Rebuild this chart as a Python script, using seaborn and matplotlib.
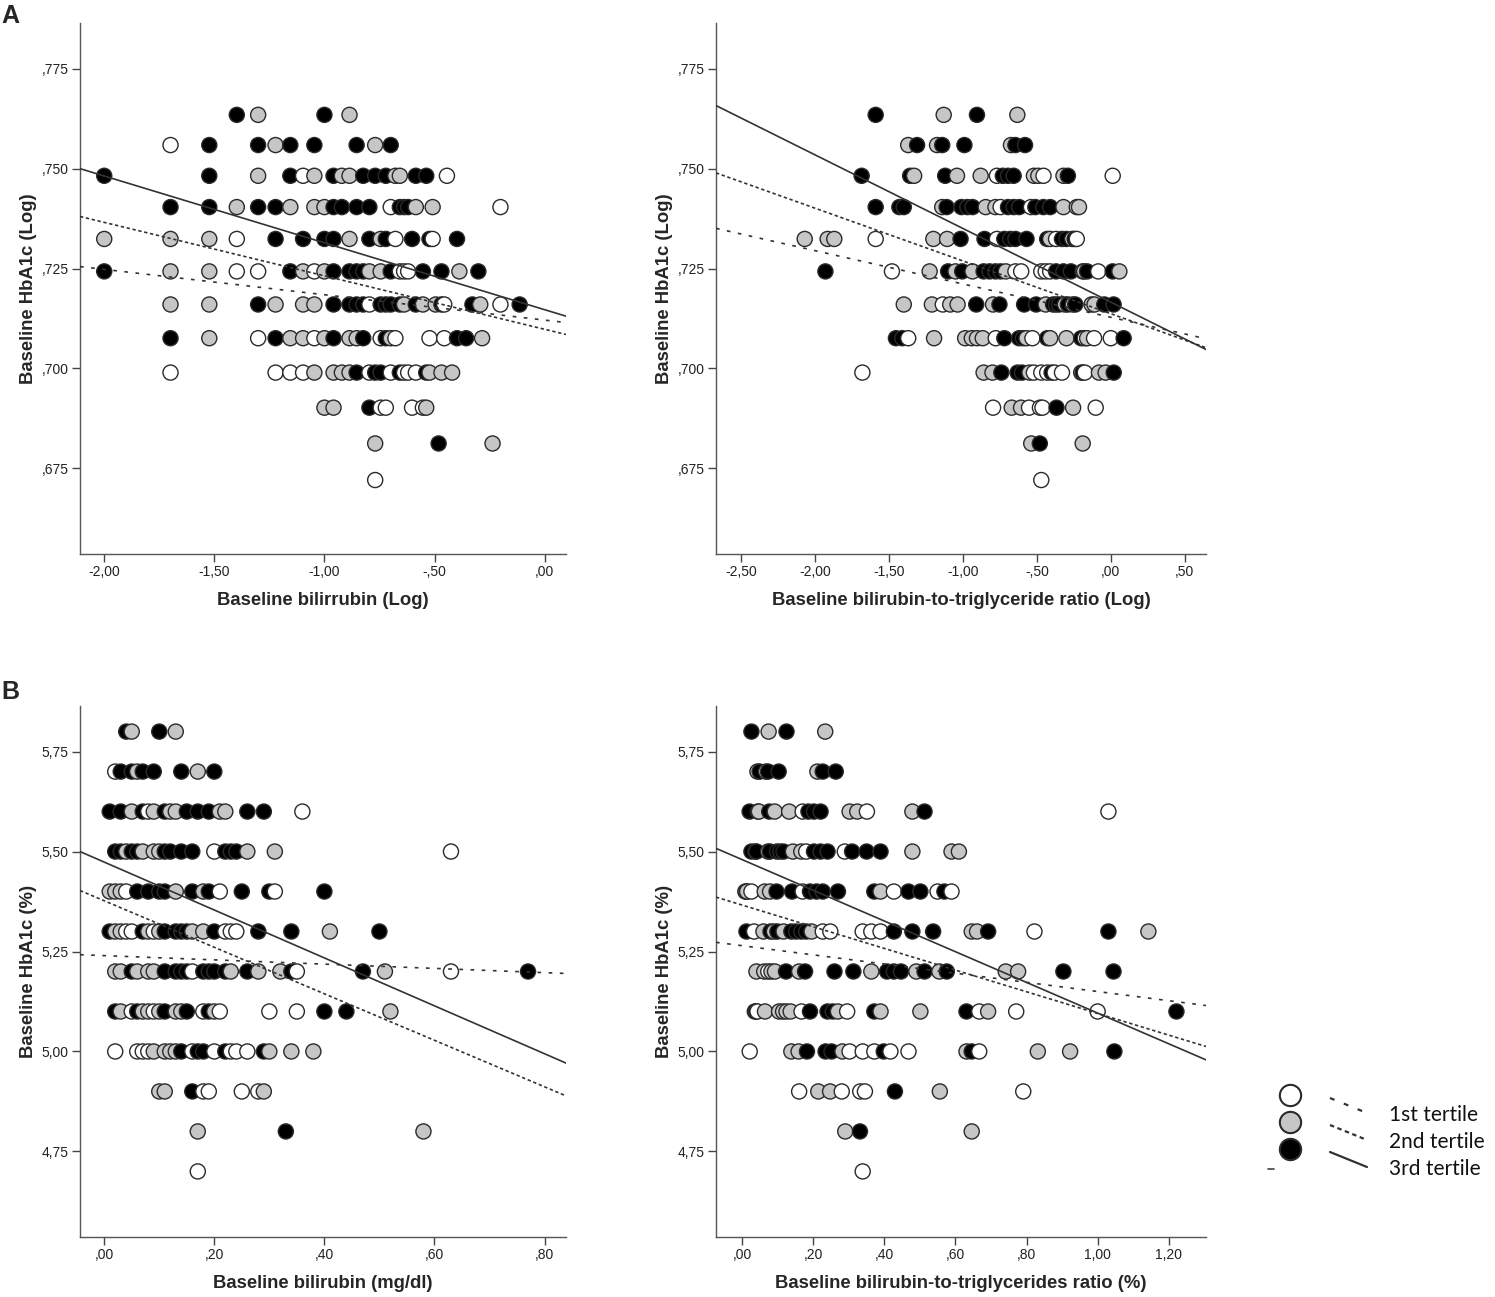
import numpy as np
import pandas as pd
import matplotlib
matplotlib.use("Agg")
import matplotlib.pyplot as plt
import seaborn as sns

# HbA1c (%) rows -> baseline bilirubin (mg/dl), one dict per tertile
bili_t1 = {
    5.7: [0.02],
    5.6: [0.08, 0.36],
    5.5: [0.20, 0.63],
    5.4: [0.04, 0.21, 0.31],
    5.3: [0.04, 0.05, 0.09, 0.22, 0.23, 0.24],
    5.2: [0.16, 0.35, 0.63],
    5.1: [0.05, 0.09, 0.18, 0.21, 0.30, 0.35],
    5.0: [0.02, 0.06, 0.07, 0.08, 0.16, 0.20, 0.23, 0.24, 0.26],
    4.9: [0.18, 0.19, 0.25, 0.28],
    4.7: [0.17],
}
bili_t2 = {
    5.8: [0.05, 0.13],
    5.7: [0.06, 0.17],
    5.6: [0.05, 0.09, 0.12, 0.13, 0.21, 0.22],
    5.5: [0.04, 0.07, 0.09, 0.10, 0.26, 0.31],
    5.4: [0.01, 0.02, 0.03, 0.13, 0.18],
    5.3: [0.02, 0.03, 0.08, 0.10, 0.16, 0.18, 0.41],
    5.2: [0.02, 0.03, 0.06, 0.08, 0.09, 0.23, 0.28, 0.32, 0.51],
    5.1: [0.03, 0.07, 0.08, 0.10, 0.13, 0.14, 0.20, 0.52],
    5.0: [0.09, 0.11, 0.12, 0.13, 0.30, 0.34, 0.38],
    4.9: [0.10, 0.11, 0.29],
    4.8: [0.17, 0.58],
}
bili_t3 = {
    5.8: [0.04, 0.10],
    5.7: [0.03, 0.05, 0.07, 0.09, 0.14, 0.20],
    5.6: [0.01, 0.03, 0.07, 0.11, 0.15, 0.17, 0.19, 0.26, 0.29],
    5.5: [0.02, 0.03, 0.05, 0.06, 0.11, 0.12, 0.14, 0.16, 0.22, 0.23, 0.24],
    5.4: [0.06, 0.08, 0.10, 0.11, 0.16, 0.19, 0.25, 0.30, 0.40],
    5.3: [0.01, 0.07, 0.11, 0.13, 0.14, 0.15, 0.20, 0.28, 0.34, 0.50],
    5.2: [0.05, 0.11, 0.13, 0.14, 0.15, 0.18, 0.19, 0.20, 0.22, 0.26, 0.34, 0.47, 0.77],
    5.1: [0.02, 0.06, 0.11, 0.15, 0.19, 0.40, 0.44],
    5.0: [0.14, 0.17, 0.18, 0.22, 0.29],
    4.9: [0.16],
    4.8: [0.33],
}

# HbA1c (%) rows -> log10 bilirubin-to-triglyceride ratio, one dict per tertile
logratio_t1 = {
    5.6: [-0.77, -0.455, 0.013],
    5.5: [-0.745, -0.54],
    5.4: [-1.59, -0.77, -0.37, -0.26, -0.23],
    5.3: [-1.48, -0.645, -0.606, -0.47, -0.44, -0.41, -0.085],
    5.2: [-1.136],
    5.1: [-1.37, -0.778, -0.53, -0.176, -0.113, 0.0],
    5.0: [-1.68, -0.52, -0.47, -0.43, -0.38, -0.33, -0.176],
    4.9: [-0.796, -0.553, -0.479, -0.462, -0.102],
    4.7: [-0.47],
}
logratio_t2 = {
    5.8: [-1.13, -0.632],
    5.7: [-1.37, -1.175, -0.675],
    5.6: [-1.33, -1.04, -0.88, -0.52, -0.49, -0.32],
    5.5: [-1.14, -0.846, -0.78, -0.32, -0.23, -0.215],
    5.4: [-2.07, -1.915, -1.87, -1.2, -1.107, -0.41],
    5.3: [-1.225, -1.05, -0.935, -0.71, -0.19, -0.18, 0.058],
    5.2: [-1.40, -1.21, -1.086, -1.036, -0.796, -0.44, -0.31, -0.256, -0.13, -0.11],
    5.1: [-1.195, -0.985, -0.94, -0.905, -0.866, -0.57, -0.41, -0.30, -0.16],
    5.0: [-0.86, -0.80, -0.55, -0.20, -0.08, -0.035],
    4.9: [-0.67, -0.607, -0.255],
    4.8: [-0.538, -0.19],
}
logratio_t3 = {
    5.8: [-1.59, -0.905],
    5.7: [-1.31, -1.14, -0.99, -0.645, -0.58],
    5.6: [-1.685, -1.357, -1.12, -0.73, -0.695, -0.657, -0.29],
    5.5: [-1.59, -1.43, -1.40, -1.11, -1.01, -0.97, -0.935, -0.695, -0.657, -0.62,
          -0.51, -0.456, -0.41],
    5.4: [-1.016, -0.854, -0.72, -0.68, -0.645, -0.57, -0.43, -0.33, -0.30, -0.245],
    5.3: [-1.93, -1.10, -1.005, -0.86, -0.82, -0.78, -0.745, -0.37, -0.32, -0.27,
          -0.16, 0.013],
    5.2: [-0.91, -0.753, -0.586, -0.505, -0.39, -0.37, -0.35, -0.29, -0.24, -0.044, 0.019],
    5.1: [-1.453, -1.41, -0.72, -0.62, -0.594, -0.43, -0.20, 0.087],
    5.0: [-0.74, -0.63, -0.60, -0.40, -0.19, 0.02],
    4.9: [-0.367],
    4.8: [-0.48],
}

# fit lines per tertile: (intercept, slope)
fit_a_left = {"1st tertile": (0.7121, -0.00634), "2nd tertile": (0.7098, -0.01337),
              "3rd tertile": (0.7147, -0.01672)}
fit_a_right = {"1st tertile": (0.7128, -0.00833), "2nd tertile": (0.7137, -0.01319),
               "3rd tertile": (0.7166, -0.01841)}
fit_b_left = {"1st tertile": (5.2397, -0.0532), "2nd tertile": (5.3769, -0.5816),
              "3rd tertile": (5.4736, -0.5991)}
fit_b_right = {"1st tertile": (5.2645, -0.1146), "2nd tertile": (5.366, -0.2709),
               "3rd tertile": (5.4796, -0.3836)}

tertiles = ["1st tertile", "2nd tertile", "3rd tertile"]
fill = {"1st tertile": "white", "2nd tertile": "#c6c6c6", "3rd tertile": "black"}
line_style = {"1st tertile": (0, (2.2, 4.5)), "2nd tertile": (0, (2.0, 1.6)), "3rd tertile": "-"}


def to_frame(groups, xname):
    rows = []
    for t, d in zip(tertiles, groups):
        for hb, xs in d.items():
            for x in xs:
                rows.append({xname: x, "hba1c": hb, "tertile": t})
    return pd.DataFrame(rows)


left = to_frame([bili_t1, bili_t2, bili_t3], "bili")
left["log_bili"] = np.log10(left["bili"])
left["log_hba1c"] = np.log10(left["hba1c"])
right = to_frame([logratio_t1, logratio_t2, logratio_t3], "log_ratio")
right["ratio"] = 10 ** right["log_ratio"]
right["log_hba1c"] = np.log10(right["hba1c"])


def fmt(v, nd):
    s = f"{v:.{nd}f}".replace(".", ",")
    if s.startswith("0,"):
        s = s[1:]
    if s.startswith("-0,"):
        s = "-" + s[2:]
    return s


sns.set_style("white")
plt.rcParams["font.family"] = ["Liberation Sans", "DejaVu Sans"]

W, H = 1495, 1297
fig = plt.figure(figsize=(W / 100, H / 100), dpi=100)


def panel(px, data, x, y, fits, xlim, ylim, xticks, yticks, ynd, xlabel, ylabel):
    l, r, t, b = px
    ax = fig.add_axes([l / W, 1 - b / H, (r - l) / W, (b - t) / H])
    d = data.sort_values(x)
    sns.scatterplot(data=d, x=x, y=y, hue="tertile", palette=fill, s=118,
                    edgecolor="#2a2a2a", linewidth=1.0, legend=False, ax=ax, zorder=3)
    xs = np.array(xlim)
    for tt in tertiles:
        a, k = fits[tt]
        ax.plot(xs, a + k * xs, color="#333333", lw=1.2, linestyle=line_style[tt], zorder=4)
    ax.set_xlim(xlim)
    ax.set_ylim(ylim)
    ax.set_xticks(xticks)
    ax.set_xticklabels([fmt(v, 2) for v in xticks])
    ax.set_yticks(yticks)
    ax.set_yticklabels([fmt(v, ynd) for v in yticks])
    for s in ["top", "right"]:
        ax.spines[s].set_visible(False)
    for s in ["left", "bottom"]:
        ax.spines[s].set_color("#555555")
        ax.spines[s].set_linewidth(1.0)
    ax.tick_params(axis="both", direction="out", length=6, width=1.0, color="#444444",
                   labelsize=10, labelcolor="#222222", pad=2, left=True, bottom=True)
    ax.set_xlabel(xlabel, fontsize=13.3, fontweight="bold")
    ax.set_ylabel(ylabel, fontsize=13.3, fontweight="bold")
    ax.xaxis.set_label_coords(0.5, -0.072)
    ax.yaxis.set_label_coords(-0.088, 0.5)
    return ax


a_y = [0.675, 0.700, 0.725, 0.750, 0.775]
b_y = [4.75, 5.00, 5.25, 5.50, 5.75]

panel((80, 566, 23, 554), left, "log_bili", "log_hba1c", fit_a_left,
      (-2.11, 0.097), (0.6536, 0.7864), [-2.0, -1.5, -1.0, -0.5, 0.0], a_y, 3,
      "Baseline bilirrubin (Log)", "Baseline HbA1c (Log)")
panel((716, 1206, 23, 554), right, "log_ratio", "log_hba1c", fit_a_right,
      (-2.67, 0.644), (0.6536, 0.7864), [-2.5, -2.0, -1.5, -1.0, -0.5, 0.0, 0.5], a_y, 3,
      "Baseline bilirubin-to-triglyceride ratio (Log)", "Baseline HbA1c (Log)")
panel((80, 566, 706, 1237), left, "bili", "hba1c", fit_b_left,
      (-0.044, 0.839), (4.536, 5.864), [0.0, 0.2, 0.4, 0.6, 0.8], b_y, 2,
      "Baseline bilirubin (mg/dl)", "Baseline HbA1c (%)")
panel((716, 1206, 706, 1237), right, "ratio", "hba1c", fit_b_right,
      (-0.074, 1.305), (4.536, 5.864), [0.0, 0.2, 0.4, 0.6, 0.8, 1.0, 1.2], b_y, 2,
      "Baseline bilirubin-to-triglycerides ratio (%)", "Baseline HbA1c (%)")

fig.text(1 / W, 1 - 16 / H, "A", fontsize=18, fontweight="bold", va="center", ha="left")
fig.text(1 / W, 1 - 692 / H, "B", fontsize=18, fontweight="bold", va="center", ha="left")

# legend drawn in figure pixel space
lg = fig.add_axes([0, 0, 1, 1], facecolor="none")
lg.set_xlim(0, W)
lg.set_ylim(H, 0)
lg.axis("off")
for i, t in enumerate(tertiles):
    yc = 1095 + i * 27
    lg.scatter([1290], [yc], s=235, c=fill[t], edgecolors="#2a2a2a", linewidths=1.5)
    lg.plot([1330, 1367], [yc + 3, yc + 18], color="#333333", lw=1.6, linestyle=line_style[t])
    lg.text(1389, yc + 20, t, fontsize=15, family=["Lato", "DejaVu Sans"], va="center",
            ha="left", color="#111111")
lg.plot([1268, 1274], [1169, 1169], color="#444444", lw=1.2)

fig.savefig("out.png", dpi=100)
